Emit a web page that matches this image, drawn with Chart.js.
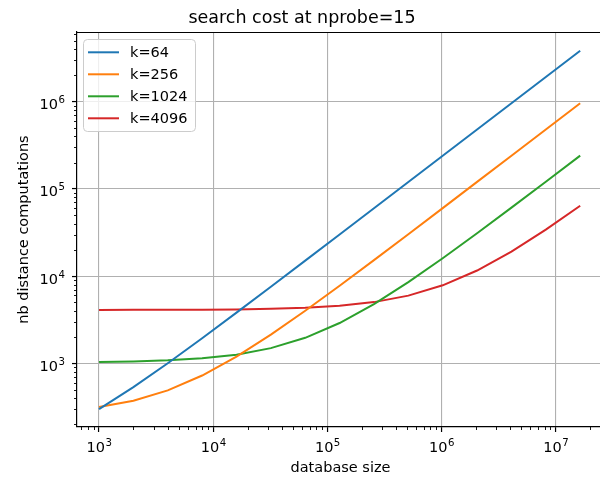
<!DOCTYPE html>
<html><head><meta charset="utf-8">
<script src="https://cdn.jsdelivr.net/npm/chart.js@4/dist/chart.umd.min.js"></script>
<style>html,body{margin:0;padding:0;background:#fff;overflow:hidden}#wrap{width:600px;height:477px;overflow:hidden}</style>
</head><body><div id="wrap"><canvas id="c" width="620" height="477"></canvas></div>
<script>
const databaseSizes = [1000, 2000, 4000, 8000, 16000, 32000, 64000, 128000, 256000, 512000, 1024000, 2048000, 4096000, 8192000, 16384000];
const costK64   = [298, 533, 1002, 1939, 3814, 7564, 15064, 30064, 60064, 120064, 240064, 480064, 960064, 1920064, 3840064];
const costK256  = [315, 373, 490, 725, 1194, 2131, 4006, 7756, 15256, 30256, 60256, 120256, 240256, 480256, 960256];
const costK1024 = [1039, 1053, 1083, 1141, 1258, 1493, 1962, 2899, 4774, 8524, 16024, 31024, 61024, 121024, 241024];
const costK4096 = [4100, 4103, 4111, 4125, 4155, 4213, 4330, 4565, 5034, 5971, 7846, 11596, 19096, 34096, 64096];
const seriesLabels = ['k=64', 'k=256', 'k=1024', 'k=4096'];
const seriesColors = ['#1f77b4', '#ff7f0e', '#2ca02c', '#d62728'];
const xTickValues = [1e3, 1e4, 1e5, 1e6, 1e7];
const yTickValues = [1e3, 1e4, 1e5, 1e6];
const titleText = 'search cost at nprobe=15';
const xLabel = 'database size';
const yLabel = 'nb distance computations';

const FONT = 'DejaVu Sans';
const MAIN_SIZE = 14.5, SUP_SIZE = 10.2;

const allSeries = [costK64, costK256, costK1024, costK4096];
const datasets = allSeries.map((vals, i) => ({
  label: seriesLabels[i],
  data: databaseSizes.map((x, j) => ({x: x, y: vals[j]})),
  borderColor: seriesColors[i],
  backgroundColor: seriesColors[i],
  borderWidth: 2,
  pointRadius: 0,
  tension: 0,
  fill: false
}));

function drawPow(ctx, v, x, baseY, align) {
  const e = String(Math.round(Math.log10(v)));
  ctx.font = MAIN_SIZE + 'px "' + FONT + '"';
  const w1 = ctx.measureText('10').width;
  ctx.font = SUP_SIZE + 'px "' + FONT + '"';
  const w2 = ctx.measureText(e).width;
  const total = w1 + w2;
  let sx = align === 'center' ? x - total / 2 : x - total;
  ctx.textAlign = 'left';
  ctx.textBaseline = 'alphabetic';
  ctx.fillStyle = '#000';
  ctx.font = MAIN_SIZE + 'px "' + FONT + '"';
  ctx.fillText('10', sx, baseY);
  ctx.font = SUP_SIZE + 'px "' + FONT + '"';
  ctx.fillText(e, sx + w1 + 0.5, baseY - 6);
}

const extras = {
  id: 'extras',
  afterDraw(chart) {
    const ctx = chart.ctx;
    const a = chart.chartArea;
    const xs = chart.scales.x, ys = chart.scales.y;
    ctx.save();
    // minor ticks
    ctx.strokeStyle = '#000';
    ctx.lineWidth = 0.9;
    ctx.beginPath();
    for (let d = 2; d <= 7; d++) {
      for (let m = 2; m <= 9; m++) {
        const v = m * Math.pow(10, d);
        if (v >= xs.min && v <= xs.max) {
          const px = Math.round(xs.getPixelForValue(v)) + 0.5;
          ctx.moveTo(px, a.bottom); ctx.lineTo(px, a.bottom + 3);
        }
        if (v >= ys.min && v <= ys.max) {
          const py = Math.round(ys.getPixelForValue(v)) + 0.5;
          ctx.moveTo(a.left, py); ctx.lineTo(a.left - 3, py);
        }
      }
    }
    ctx.stroke();
    // top/right spines
    ctx.lineWidth = 1.2;
    ctx.beginPath();
    ctx.moveTo(a.left, a.top + 0.5); ctx.lineTo(a.right, a.top + 0.5);
    ctx.moveTo(a.right - 0.5, a.top); ctx.lineTo(a.right - 0.5, a.bottom);
    ctx.stroke();
    // tick labels (10 with superscript exponent)
    xTickValues.forEach(v => {
      if (v < xs.min || v > xs.max) return;
      drawPow(ctx, v, xs.getPixelForValue(v), a.bottom + 25, 'center');
    });
    yTickValues.forEach(v => {
      if (v < ys.min || v > ys.max) return;
      drawPow(ctx, v, a.left - 12.5, ys.getPixelForValue(v) + 7.5, 'right');
    });
    // legend
    const bx = 83.5, by = 39.5, bw = 112, bh = 92, r = 4;
    ctx.beginPath();
    ctx.moveTo(bx + r, by);
    ctx.lineTo(bx + bw - r, by); ctx.quadraticCurveTo(bx + bw, by, bx + bw, by + r);
    ctx.lineTo(bx + bw, by + bh - r); ctx.quadraticCurveTo(bx + bw, by + bh, bx + bw - r, by + bh);
    ctx.lineTo(bx + r, by + bh); ctx.quadraticCurveTo(bx, by + bh, bx, by + bh - r);
    ctx.lineTo(bx, by + r); ctx.quadraticCurveTo(bx, by, bx + r, by);
    ctx.closePath();
    ctx.fillStyle = 'rgba(255,255,255,0.8)';
    ctx.fill();
    ctx.strokeStyle = '#cccccc';
    ctx.lineWidth = 1;
    ctx.stroke();
    ctx.font = MAIN_SIZE + 'px "' + FONT + '"';
    ctx.textBaseline = 'middle';
    ctx.textAlign = 'left';
    chart.data.datasets.forEach((ds, i) => {
      const yy = 52.3 + i * 22;
      ctx.strokeStyle = ds.borderColor;
      ctx.lineWidth = 2;
      ctx.beginPath(); ctx.moveTo(88, yy); ctx.lineTo(119, yy); ctx.stroke();
      ctx.fillStyle = '#000';
      ctx.fillText(ds.label, 130, yy + 0.5);
    });
    ctx.restore();
  }
};

new Chart(document.getElementById('c'), {
  type: 'line',
  data: { datasets: datasets },
  plugins: [extras],
  options: {
    responsive: false,
    animation: false,
    devicePixelRatio: 1,
    layout: { padding: { left: 0, right: 16, top: 0, bottom: 0 } },
    plugins: {
      legend: { display: false },
      tooltip: { enabled: false },
      title: {
        display: true, text: titleText, color: '#000',
        font: { family: FONT, size: 17.5, weight: 'normal', lineHeight: 1.2 },
        padding: { top: 8, bottom: 3 }
      }
    },
    scales: {
      x: {
        type: 'logarithmic',
        min: Math.pow(10, 2.807), max: Math.pow(10, 7.423),
        afterBuildTicks: s => { s.ticks = xTickValues.map(v => ({value: v})); },
        afterFit: s => { s.height = 50; },
        ticks: { display: false, autoSkip: false, maxRotation: 0 },
        grid: { color: '#b0b0b0', lineWidth: 1.1, tickColor: '#000', tickLength: 5, tickWidth: 1.2 },
        border: { display: true, color: '#000', width: 1.2 },
        title: { display: true, text: xLabel, color: '#000', font: { family: FONT, size: 14.5 }, padding: { top: 0, bottom: 0 } }
      },
      y: {
        type: 'logarithmic',
        min: Math.pow(10, 2.270), max: Math.pow(10, 6.799),
        afterBuildTicks: s => { s.ticks = yTickValues.map(v => ({value: v})); },
        afterFit: s => { s.width = 77; },
        ticks: { display: false, autoSkip: false },
        grid: { color: '#b0b0b0', lineWidth: 1.1, tickColor: '#000', tickLength: 5, tickWidth: 1.2 },
        border: { display: true, color: '#000', width: 1.2 },
        title: { display: true, text: yLabel, color: '#000', font: { family: FONT, size: 14.5 }, padding: { top: 16, bottom: 0 } }
      }
    }
  }
});
</script>
</body></html>
